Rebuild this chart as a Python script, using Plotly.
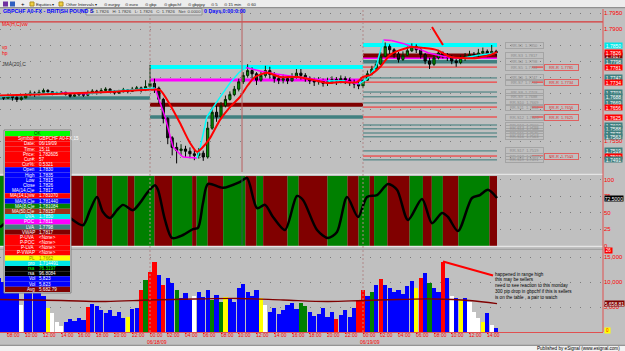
import plotly.graph_objects as go

FONT = "Liberation Sans, Arial, sans-serif"

# ======================= DATA =======================
# 30-minute bars, time axis in hours counted from 06/18/09 00:00
bar_hours = [i / 2 for i in range(-34, 79)]

close = [1.7688, 1.7684, 1.7692, 1.7686, 1.7680, 1.7685, 1.7694, 1.7700, 1.7696, 1.7702,
         1.7708, 1.7704, 1.7698, 1.7700, 1.7702, 1.7696, 1.7690, 1.7694, 1.7698, 1.7693,
         1.7700, 1.7706, 1.7702, 1.7708, 1.7712, 1.7706, 1.7700, 1.7704, 1.7710, 1.7705,
         1.7712, 1.7716, 1.7710, 1.7720, 1.7730, 1.7715, 1.7680, 1.7620, 1.7560, 1.7530,
         1.7520, 1.7525, 1.7518, 1.7510, 1.7505, 1.7512, 1.7500, 1.7590, 1.7640, 1.7625,
         1.7660, 1.7680, 1.7695, 1.7712, 1.7735, 1.7755, 1.7770, 1.7760, 1.7740, 1.7755,
         1.7770, 1.7758, 1.7745, 1.7740, 1.7745, 1.7738, 1.7750, 1.7762, 1.7755, 1.7745,
         1.7738, 1.7735, 1.7740, 1.7730, 1.7735, 1.7742, 1.7738, 1.7745, 1.7740, 1.7732,
         1.7728, 1.7722, 1.7740, 1.7760, 1.7775, 1.7790, 1.7815, 1.7845, 1.7835, 1.7822,
         1.7805, 1.7818, 1.7832, 1.7845, 1.7835, 1.7820, 1.7800, 1.7790, 1.7810, 1.7825,
         1.7818, 1.7812, 1.7800, 1.7795, 1.7808, 1.7815, 1.7820, 1.7818, 1.7825, 1.7830,
         1.7822, 1.7830, 1.7826]
high = [1.7695, 1.7692, 1.7698, 1.7694, 1.7690, 1.7690, 1.7700, 1.7708, 1.7705, 1.7710,
        1.7714, 1.7712, 1.7706, 1.7704, 1.7706, 1.7704, 1.7700, 1.7699, 1.7703, 1.7700,
        1.7708, 1.7712, 1.7710, 1.7715, 1.7718, 1.7715, 1.7709, 1.7710, 1.7716, 1.7712,
        1.7719, 1.7722, 1.7720, 1.7740, 1.7788, 1.7745, 1.7720, 1.7685, 1.7625, 1.7565,
        1.7545, 1.7540, 1.7535, 1.7530, 1.7525, 1.7528, 1.7520, 1.7610, 1.7655, 1.7660,
        1.7672, 1.7692, 1.7705, 1.7722, 1.7745, 1.7765, 1.7790, 1.7780, 1.7765, 1.7768,
        1.7785, 1.7782, 1.7765, 1.7755, 1.7758, 1.7752, 1.7762, 1.7775, 1.7775, 1.7762,
        1.7752, 1.7748, 1.7750, 1.7745, 1.7748, 1.7752, 1.7750, 1.7755, 1.7752, 1.7748,
        1.7742, 1.7738, 1.7750, 1.7770, 1.7785, 1.7800, 1.7828, 1.7858, 1.7852, 1.7840,
        1.7828, 1.7830, 1.7845, 1.7855, 1.7852, 1.7840, 1.7825, 1.7810, 1.7820, 1.7835,
        1.7830, 1.7825, 1.7818, 1.7808, 1.7818, 1.7825, 1.7832, 1.7828, 1.7838, 1.7842,
        1.7836, 1.7850, 1.7835]
low = [1.7680, 1.7678, 1.7682, 1.7676, 1.7672, 1.7676, 1.7683, 1.7690, 1.7688, 1.7692,
       1.7698, 1.7698, 1.7693, 1.7695, 1.7697, 1.7692, 1.7686, 1.7688, 1.7690, 1.7688,
       1.7690, 1.7696, 1.7695, 1.7699, 1.7704, 1.7700, 1.7695, 1.7697, 1.7702, 1.7699,
       1.7703, 1.7708, 1.7702, 1.7706, 1.7712, 1.7700, 1.7665, 1.7605, 1.7540, 1.7505,
       1.7480, 1.7505, 1.7500, 1.7496, 1.7490, 1.7495, 1.7488, 1.7495, 1.7585, 1.7610,
       1.7620, 1.7655, 1.7676, 1.7690, 1.7705, 1.7728, 1.7748, 1.7745, 1.7725, 1.7735,
       1.7748, 1.7745, 1.7732, 1.7728, 1.7730, 1.7728, 1.7735, 1.7745, 1.7742, 1.7735,
       1.7728, 1.7722, 1.7726, 1.7720, 1.7722, 1.7728, 1.7725, 1.7730, 1.7728, 1.7722,
       1.7715, 1.7712, 1.7715, 1.7738, 1.7755, 1.7770, 1.7788, 1.7812, 1.7822, 1.7810,
       1.7795, 1.7800, 1.7815, 1.7828, 1.7825, 1.7808, 1.7790, 1.7775, 1.7785, 1.7805,
       1.7808, 1.7800, 1.7790, 1.7782, 1.7790, 1.7800, 1.7808, 1.7810, 1.7812, 1.7818,
       1.7812, 1.7818, 1.7815]

slow_ma_h = [-16.9, -10, -4, 0, 1.13, 2.25, 3.38, 4.51, 5.30, 5.86, 6.76, 7.89, 9.01, 10.14, 11.04,
             11.83, 13.18, 14.65, 16.56, 18.37, 19.94, 21.41, 23.32, 24.0, 24.79, 25.92, 27.04,
             28.17, 29.52, 30.76, 32.34, 33.80, 35.27, 36.85, 38.31, 39.10]
slow_ma = [1.7692, 1.7698, 1.7704, 1.7710, 1.7709, 1.7663, 1.7606, 1.7544, 1.7516, 1.7528, 1.7559,
           1.7616, 1.7656, 1.7688, 1.7725, 1.7750, 1.7763, 1.7750, 1.7750, 1.7741, 1.7731, 1.7734,
           1.7734, 1.7750, 1.7756, 1.7781, 1.7819, 1.7834, 1.7844, 1.7841, 1.7834, 1.7813, 1.7809,
           1.7809, 1.7819, 1.7828]
fast_ma_h = [-16.9, -13, -10, -7, -4, -1, 0.56, 1.7, 2.6, 3.7, 5.3, 5.6, 6.4, 7.9, 9.0, 10.1, 10.8,
             12.5, 14, 16, 18, 20, 22, 23.5, 24.5, 25.5, 26.3, 27.2, 28.5, 30.6, 31.4, 33, 35, 37, 39.1]
fast_ma = [1.7688, 1.7698, 1.7700, 1.7698, 1.7706, 1.7712, 1.7716, 1.7625, 1.7531, 1.7500, 1.7497,
           1.7522, 1.7625, 1.7687, 1.7731, 1.7766, 1.7780, 1.7768, 1.7760, 1.7752, 1.7745, 1.7738,
           1.7738, 1.7728, 1.7745, 1.7785, 1.7866, 1.7864, 1.7855, 1.7834, 1.7825, 1.7815, 1.7808,
           1.7818, 1.7826]

# value-area / support-resistance levels
level_kind = ['mark', 'LVA',
              'UVA', 'POC', 'VWAP', 'LVA',
              'UVA', 'POC', 'VWAP', 'LVA',
              'R', 'S', 'R', 'S', 'S', 'S', 'R', 'R', 'S', 'S', 'S', 'S', 'S', 'R', 'S']
level_price = [1.7922, 1.7684,
               1.7781, 1.7741, 1.7663, 1.7625,
               1.7850, 1.7811, 1.7817, 1.7798,
               1.7781, 1.7747, 1.7734, 1.7703, 1.7688, 1.7669, 1.7656, 1.7625, 1.7600, 1.7588,
               1.7575, 1.7563, 1.7519, 1.7503, 1.7491]
level_from = [-16.9, -16.9, 0, 0, 0, 0] + [24] * 19
level_to = [51.04, 0, 24, 24, 24, 24] + [39.1] * 19

osc_h = [-16.9, -14.6, -12.4, -10.7, -9.0, -7.55, -6.76, -5.97, -5.30, -4.51, -3.72, -3.04, -1.92,
         -1.13, -0.34, 0.56, 0.90, 1.69, 2.48, 3.72, 4.85, 5.41, 5.97, 6.54, 8.23, 10.14, 10.93,
         12.06, 12.96, 13.86, 15.21, 16.56, 17.24, 18.82, 20.06, 21.07, 22.20, 23.44, 24.45, 25.58,
         26.82, 27.83, 29.07, 30.65, 31.77, 32.90, 33.58, 34.70, 36.28, 37.18, 38.08, 39.10]
osc = [28, 46, 31, 62, 42, 31, 54, 74, 51, 42, 54, 62, 54, 65, 80, 92, 85, 39, 11.5, 16, 25, 27,
       65, 94, 88, 97, 103, 57, 62, 43.5, 23.7, 75.6, 69.5, 23.7, 11.5, 20.6, 74, 43.5, 74, 77,
       94, 85, 39, 71, 34, 49.6, 43.5, 22, 72.5, 77, 85, 72.5]
band_from = [-16.9, -13, -11, -9, -7.5, -6, -4.25, -2.5, -1.75, 0.5, 2.5, 4.75, 5.25, 6.5, 8.25,
             10.75, 12, 12.75, 15.5, 16.75, 20, 22.25, 23.5, 24.75, 25.25, 26.75, 29.25, 30.75,
             31.75, 33, 34.75, 38.25]
band_to = [-13, -11, -9, -7.5, -6, -4.25, -2.5, -1.75, 0.5, 2.5, 4.75, 5.25, 6.5, 8.25, 10.75,
           12, 12.75, 15.5, 16.75, 20, 22.25, 23.5, 24.75, 25.25, 26.75, 29.25, 30.75, 31.75,
           33, 34.75, 38.25, 39.1]
band_state = list("GRGRGRGRGRGRGRGRGRGRGRGRGRGRGRGR")

volume = [10900, 10100, 11300, 9500, 8500, 5500, 8900, 9700, 8100, 9100,
          7300, 4900, 3900, 2100, 1300, 2100, 2700, 2300, 2900, 2500,
          5100, 5700, 5300, 4500, 3900, 4500, 3300, 4100, 2900, 3100,
          4700, 4900, 8500, 10500, 12100, 14100, 11500, 9500, 10900, 9900,
          8500, 6900, 7900, 6500, 7300, 8100, 7100, 8500, 6500, 7500,
          6100, 7100, 6700, 6100, 8900, 9700, 8100, 7300, 8500, 6900,
          5500, 4100, 4900, 3700, 4500, 5500, 5900, 4700, 5900, 5300,
          4100, 3300, 3700, 4900, 3100, 4100, 2700, 3500, 4500, 3100,
          4900, 6500, 8500, 7300, 8100, 9500, 10700, 9500, 8900, 8100,
          8500, 7700, 9300, 10300, 8900, 10900, 11900, 9900, 8900, 8100,
          14100, 10900, 7300, 6900, 6500, 6900, 6100, 4100, 2900, 2100,
          3900, 1500, 900]
volume_kind = list("bbbbbwbbbb" "bywwwbbbbb" "rbbbbbbbby" "bbrgrrbrbb" "gbbbwbbbgb" "gybbbbbbby"
                   "wbbbbbbbgg" "bbbbbbrbbb" "brrbgbrbbb" "bbbbyrbgbb" "rbwbybwwwy" "bwb")
vol_avg_h = [-16.9, -10, -5, 0, 5, 10, 15, 20, 24, 28, 32, 36, 39.1]
vol_avg = [6500, 6300, 6100, 6400, 6600, 6700, 6400, 6100, 6300, 6500, 6600, 6300, 5658.81]

tick_hours = list(range(-16, 39, 2))
day_dates = {0: "06/18/09", 24: "06/19/09"}

note_price_h = [31.77, 33.01]
note_price = [1.7906, 1.7850]
note_vol_h = [33.01, 38.65]
note_vol = [14100, 11300]
note_text = ["happened in range high", "this may be sellers", "need to see reaction to this monday",
             "300 pip drop in gbpchf if this is sellers", "is on the table , a pair to watch"]

table_labels = ["", "Symbol:", "Date:", "Time:", "Price:", "Cur#:", "Cur%:",
                "Open", "High", "Low", "Close", "MA(14,C)e",
                "MA(14,L)vw", "MA(8,C)e", "MA(8,C)e", "MA(50,C)e",
                "UVA", "POC", "LVA", "VWAP",
                "P-UVA", "P-POC", "P-LVA", "P-VWAP",
                "PL", "pro", "rsa", "rsa", "Vol", "Vol", "Avg"]
table_values = ["OK", "GBPCHF A0-FX,15", "06/19/09", "15:11", "1.782605", "57", "0.5321",
                "1.7830", "1.7835", "1.7815", "1.7826", "1.7817",
                "1.781070", "1.781440", "1.781084", "1.78157",
                "1.7850", "1.7811", "1.7798", "1.7817",
                "&lt;None&gt;", "&lt;None&gt;", "&lt;None&gt;", "&lt;None&gt;",
                "1.7662", "1.714491", "76.3197", "96.8084", "5,823", "5,823", "5,682.79"]

# ======================= LAYOUT HELPERS =======================
W, H = 625, 351
ML, MR, MT, MB = 0, 22, 7, 19
PW, PH = W - ML - MR, H - MT - MB
BG = "#c0c0c0"
X_RANGE = [-16.9, 51.04]
OSC_RANGE = [-0.76, 107.6]


def xp(px):
    return (px - ML) / PW


def yp(py):
    return (H - MB - py) / PH


fig = go.Figure()


def ann(x, y, text, size=5, color="#000000", xanchor="left", bg=None, border=None,
        width=None, height=None, xref="paper", yref="paper", xshift=0):
    kw = dict(xref=xref, yref=yref, x=x, y=y, text=text, showarrow=False, xanchor=xanchor,
              yanchor="middle", font=dict(size=size, color=color, family=FONT), borderpad=0,
              xshift=xshift)
    if bg:
        kw["bgcolor"] = bg
    if border:
        kw["bordercolor"] = border
        kw["borderwidth"] = 1
    if width:
        kw["width"] = width
    if height:
        kw["height"] = height
    fig.add_annotation(**kw)


def px_ann(x, y, text, **kw):
    ann(xp(x), yp(y), text, **kw)


def px_rect(x0, y0, x1, y1, fill, line=None, layer="above"):
    fig.add_shape(type="rect", xref="paper", yref="paper", x0=xp(x0), x1=xp(x1), y0=yp(y1),
                  y1=yp(y0), fillcolor=fill,
                  line=dict(color=line if line else fill, width=1 if line else 0), layer=layer)


def px_line(x0, y0, x1, y1, color, w=1, dash="solid", layer="above"):
    fig.add_shape(type="line", xref="paper", yref="paper", x0=xp(x0), x1=xp(x1), y0=yp(y0),
                  y1=yp(y1), line=dict(color=color, width=w, dash=dash), layer=layer)


# ======================= PRICE PANEL =======================
opens = [close[0]] + close[:-1]
fig.add_trace(go.Candlestick(
    x=bar_hours, open=opens, high=high, low=low, close=close, xaxis="x", yaxis="y",
    increasing=dict(line=dict(color="#002800", width=1), fillcolor="#00a000"),
    decreasing=dict(line=dict(color="#000000", width=1), fillcolor="#1a1a1a"),
    whiskerwidth=0, hoverinfo="skip", showlegend=False))

rise_x, rise_y, fall_x, fall_y = [], [], [], []
for i in range(len(fast_ma) - 1):
    xs = [fast_ma_h[i], fast_ma_h[i + 1], None]
    ys = [fast_ma[i], fast_ma[i + 1], None]
    if fast_ma[i + 1] >= fast_ma[i]:
        rise_x += xs
        rise_y += ys
    else:
        fall_x += xs
        fall_y += ys
fig.add_trace(go.Scatter(x=fall_x, y=fall_y, yaxis="y", mode="lines",
                         line=dict(color="#ff00ff", width=1.5), hoverinfo="skip"))
fig.add_trace(go.Scatter(x=rise_x, y=rise_y, yaxis="y", mode="lines",
                         line=dict(color="#00ffff", width=1.5), hoverinfo="skip"))
fig.add_trace(go.Scatter(x=slow_ma_h, y=slow_ma, yaxis="y", mode="lines",
                         line=dict(color="#ff0000", width=2, shape="spline", smoothing=0.7),
                         hoverinfo="skip"))
fig.add_trace(go.Scatter(x=note_price_h, y=note_price, yaxis="y", mode="lines",
                         line=dict(color="#ff0000", width=2), hoverinfo="skip"))

LEVEL_STYLE = {"mark": ("#d83838", 1.2), "UVA": ("#00ffff", 4), "POC": ("#ff00ff", 3),
               "VWAP": ("#800000", 4), "LVA": ("#408080", 3.5), "R": ("#ff2020", 1),
               "S": ("#3a7878", 1)}
LABEL_BG = {"UVA": "#00e8e8", "VWAP": "#800000", "LVA": "#408080", "R": "#ff0000", "S": "#408080"}
order = sorted(range(len(level_price)), key=lambda i: LEVEL_STYLE[level_kind[i]][1])
for i in order:
    col, w = LEVEL_STYLE[level_kind[i]]
    fig.add_shape(type="line", xref="x", yref="y", x0=level_from[i], x1=level_to[i],
                  y0=level_price[i], y1=level_price[i], line=dict(color=col, width=w),
                  layer="between")

# level side boxes and axis labels (today's levels)
for i, p in enumerate(level_price):
    k = level_kind[i]
    if level_from[i] != 24 or k == "POC":
        continue
    ann(xp(505), p, f"RR-S{i - 5}  {p:.4f}", size=4, color="#8a8a8a", border="#a4a4a4",
        width=37, height=5, yref="y")
    if k == "R":
        fig.add_shape(type="line", xref="paper", yref="y", x0=xp(532), x1=xp(543), y0=p, y1=p,
                      line=dict(color="#ff2020", width=1))
        ann(xp(544), p, f"RR-R  {p:.4f}", size=4, color="#e03030", border="#e06060",
            width=33, height=5, yref="y")
    ann(xp(604), p, f"{p:.4f}", size=5, color="#ffffff", bg=LABEL_BG[k], width=17, height=5,
        yref="y")
ann(xp(604), close[-1], f"{close[-1]:.4f}", size=5, color="#ffffff", bg="#ff0000",
    width=17, height=5, yref="y")

price_ticks = [round(1.7450 + 0.005 * i, 4) for i in range(11)]
labelled = [p for i, p in enumerate(level_price) if level_from[i] == 24 and level_kind[i] != "POC"]
price_text = ["" if any(abs(t - p) < 0.0008 for p in labelled) else f"{t:.4f}" for t in price_ticks]

# ======================= OSCILLATOR PANEL =======================
for a, b, s in zip(band_from, band_to, band_state):
    fig.add_shape(type="rect", xref="x", yref="y2", x0=a, x1=b, y0=OSC_RANGE[0], y1=106.0,
                  fillcolor="#008000" if s == "G" else "#800000", line=dict(width=0),
                  layer="between")
fig.add_trace(go.Scatter(x=osc_h, y=osc, yaxis="y2", mode="lines",
                         line=dict(color="#000000", width=2.5, shape="spline", smoothing=0.8),
                         hoverinfo="skip"))
ann(xp(604), osc[-1], f"{osc[-1]:.4f}", size=5, color="#ffffff", bg="#000000", width=18,
    height=5, yref="y2")

# ======================= VOLUME PANEL =======================
VOL_COL = {"b": "#0000ff", "y": "#ffff00", "w": "#ffffff", "r": "#ff0000", "g": "#008000"}
fig.add_trace(go.Bar(x=bar_hours, y=volume, yaxis="y3", width=0.47,
                     marker=dict(color=[VOL_COL[k] for k in volume_kind], line=dict(width=0)),
                     hoverinfo="skip"))
fig.add_trace(go.Scatter(x=vol_avg_h, y=vol_avg, yaxis="y3", mode="lines",
                         line=dict(color="#800000", width=1.3, shape="spline"), hoverinfo="skip"))
fig.add_trace(go.Scatter(x=note_vol_h, y=note_vol, yaxis="y3", mode="lines",
                         line=dict(color="#ff0000", width=2), hoverinfo="skip"))
ann(xp(604), vol_avg[-1], f"{vol_avg[-1]:,.2f}", size=5, color="#ffffff", bg="#800000",
    width=19, height=5, yref="y3")
for j, t in enumerate(note_text):
    px_ann(494, 274 + j * 5.8, t, size=4.6, color="#000000")

# time-axis labels (drawn just right of each tick, dates under midnight)
for h in tick_hours:
    ann(h, yp(335.0), f"{h % 24:02d}:00", size=5, color="#ff0000", xanchor="center",
        xref="x", xshift=6)
for h, d in day_dates.items():
    ann(h, yp(341.5), d, size=5, color="#ff0000", xanchor="center", xref="x", xshift=7)

# ======================= FRAME DECORATIONS =======================
# panel separators
px_line(0, 174.3, 603, 174.3, "#eeeeee", 1)
px_line(0, 246.3, 603, 246.3, "#eeeeee", 1)
px_line(0, 249.3, 603, 249.3, "#9a9a9a", 1)
# day boundaries and cursor line
for h in day_dates:
    fig.add_shape(type="line", xref="x", yref="paper", x0=h, x1=h, y0=0, y1=yp(8),
                  line=dict(color="#b08888", width=1, dash="2px,2px"))
fig.add_shape(type="line", xref="x", yref="paper", x0=10.37, x1=10.37, y0=yp(172), y1=yp(8),
              line=dict(color="#b86060", width=1))
fig.add_shape(type="line", xref="x", yref="paper", x0=10.37, x1=10.37, y0=yp(245), y1=yp(176),
              line=dict(color="#305858", width=1))
# right border
px_line(603, 332, 603, 9, "#e05050", 1)
px_ann(604, 330, "0", size=4.5, color="#ff0000", bg="#ffff00", width=5, height=5)
px_ann(604, 250, "26", size=4.5, color="#ffffff", bg="#ff0000", width=7, height=5)

# toolbar
px_rect(0, 0, 625, 7.5, "#ededed")
px_line(0, 7.7, 625, 7.7, "#808080", 1)
px_rect(3, 1.5, 8, 6.5, "#7030a0")
px_rect(10, 1.5, 15, 6.5, "#3060c0")
px_ann(20, 4, "+", size=6, color="#000000")
px_rect(30, 2, 34, 6, "#f0d040", line="#b09020")
px_ann(35, 4, "Equities ▾", size=4.3, color="#202020")
px_rect(59, 2, 63, 6, "#f0d040", line="#b09020")
px_ann(65, 4, "Other Intervals ▾", size=4.3, color="#202020")
for x, t in [(103, "eurjpy"), (124, "euro"), (144, "gbp"), (163, "gbpchf"), (187, "gbpjpy"),
             (210, "5"), (223, "15 min"), (246, "60")]:
    px_ann(x, 4, "⊙ " + t, size=4.3, color="#202020")

# title row
px_ann(2, 11.5, "<b>GBPCHF A0-FX - BRITISH POUND S</b>", size=5.3, color="#0000ff")
px_rect(86, 8.5, 202, 15, "#d6d6d6", line="#909090")
px_ann(89, 11.8, "O: 1.7826   H: 1.7826   L: 1.7826   C: 1.7826   Net: 0.0000", size=4.3,
       color="#404040")
px_ann(203, 11.5, "<b>0 Days,0:00:0:00</b>", size=5.3, color="#0000ff")
px_ann(1, 24, "MA(H,C)vw", size=5, color="#ff0000")
px_ann(1, 47, "vp", size=5, color="#ff0000")
px_ann(1, 53, "hp", size=5, color="#ff0000")
px_ann(1, 64, "JMA(20),C", size=5, color="#303030")

# info table
ROW_BG = (["#00ff00"] + ["#ff0000"] * 6 + ["#0000ff"] * 5 +
          ["#ff0000", "#0000ff", "#008000", "#a03018", "#00e8e8", "#ff00ff", "#408080", "#800000"] +
          ["#ff0000"] * 4 + ["#ffff00", "#00e8e8", "#000000", "#000000", "#0000ff", "#0000ff",
                              "#800000"])
ROW_FG = ["#ffffff"] * len(table_labels)
ROW_FG[0] = "#004000"
ROW_FG[24] = "#909000"
ROW_FG[26] = "#00ff00"
TOP, RH = 131.0, 5.19
px_rect(4, 130, 71, 293, "#d8d8d8", line="#808080")
for r, (lab, val) in enumerate(zip(table_labels, table_values)):
    y0 = TOP + r * RH
    px_rect(5, y0, 70, y0 + RH, ROW_BG[r])
    yc = y0 + RH / 2
    if lab:
        px_ann(36, yc, lab, size=4.6, color=ROW_FG[r], xanchor="right")
        px_ann(38, yc, val, size=4.6, color=ROW_FG[r])
    else:
        px_ann(37.5, yc, val, size=4.6, color=ROW_FG[r], xanchor="center")

# status bar
px_rect(0, 345.3, 625, 351, "#f2f2f2")
px_line(0, 345.3, 625, 345.3, "#808080", 1)
px_ann(621, 348.3, "Published by eSignal (www.esignal.com)", size=4.6, color="#000000",
       xanchor="right")

GRID = dict(showgrid=True, gridcolor="#7c7c7c", gridwidth=1, griddash="1px,9px", zeroline=False,
            ticks="", fixedrange=True, anchor="x", side="right")
TF = dict(size=6, color="#ff0000", family=FONT)
fig.update_layout(
    width=W, height=H, margin=dict(l=ML, r=MR, t=MT, b=MB, pad=0),
    paper_bgcolor=BG, plot_bgcolor=BG, showlegend=False, hovermode=False, bargap=0,
    xaxis=dict(range=X_RANGE, domain=[0, 1], anchor="y3", showgrid=False, zeroline=False,
               rangeslider=dict(visible=False), tickmode="array", tickvals=tick_hours,
               showticklabels=False, ticks="outside", ticklen=1, tickcolor="#ff0000",
               showline=True, linecolor="#e05050", linewidth=1, fixedrange=True),
    yaxis=dict(domain=[yp(172), 1], range=[1.7453125, 1.796875], tickmode="array",
               tickvals=price_ticks, ticktext=price_text, tickfont=TF, **GRID),
    yaxis2=dict(domain=[yp(246), yp(175)], range=OSC_RANGE, tickmode="array",
                tickvals=[0, 25, 50, 75, 100], ticktext=["0", "25", "50", "75", "100"],
                tickfont=TF, **GRID),
    yaxis3=dict(domain=[0, yp(250)], range=[0, 16400], tickmode="array",
                tickvals=[5000, 10000, 15000], ticktext=["5,000", "10,000", "15,000"],
                tickfont=TF, **GRID),
)

fig.write_html("out.html")
